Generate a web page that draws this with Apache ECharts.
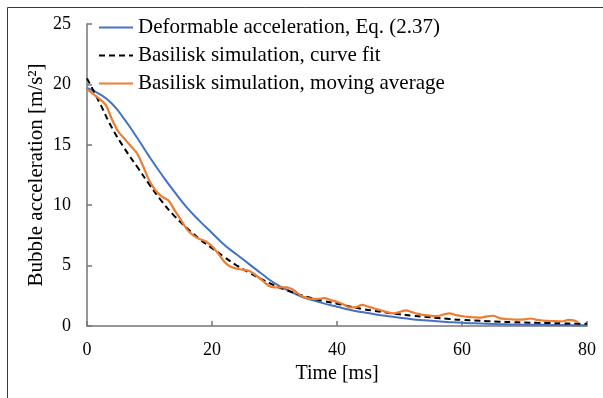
<!DOCTYPE html>
<html>
<head>
<meta charset="utf-8">
<script src="https://cdn.jsdelivr.net/npm/echarts@6/dist/echarts.min.js"></script>
<style>
html,body{margin:0;padding:0;background:#fff;}
#chart{width:603px;height:398px;}
</style>
</head>
<body>
<div id="chart"></div>
<script>
// Time grid for the smooth curves [ms]
const timeSmooth = [0,2,4,6,8,10,12,14,16,18,20,22,24,26,28,30,32,34,36,38,40,42,44,46,48,50,52,54,56,58,60,62,64,66,68,70,72,74,76,78,80];
// Deformable acceleration, Eq. (2.37) [m/s^2]
const deformable = [19.7,19.2,18.4,17.1,15.6,14.0,12.5,11.1,9.8,8.7,7.7,6.7,5.9,5.1,4.3,3.55,3.0,2.5,2.15,1.85,1.6,1.35,1.15,0.97,0.82,0.68,0.56,0.47,0.39,0.32,0.26,0.22,0.18,0.15,0.13,0.11,0.1,0.09,0.08,0.07,0.07];
// Basilisk simulation, curve fit [m/s^2]
const curveFit = [20.5,18.5,16.4,14.7,13.2,11.7,10.3,9.1,8.1,7.2,6.45,5.7,5.0,4.4,3.85,3.35,2.95,2.6,2.3,2.05,1.85,1.62,1.42,1.25,1.1,0.97,0.86,0.76,0.67,0.58,0.5,0.45,0.4,0.36,0.32,0.29,0.26,0.24,0.22,0.2,0.19];
// Basilisk simulation, moving average
const timeAvg = [0,1,2,3,4,5,6,7,8,9,10,11,12,13,14,15,16,17,18,19,20,21,22,23,24,25,26,27,28,29,30,31,32,33,34,35,36,37,38,39,40,41,42,43,44,45,46,47,48,49,50,51,52,53,54,55,56,57,58,59,60,61,62,63,64,65,66,67,68,69,70,71,72,73,74,75,76,77,78,78.6];
const movingAvg = [19.6,19.2,18.8,18.3,17.1,16.1,15.5,14.9,14.3,13.2,12.0,11.2,10.7,10.4,9.6,8.8,8.0,7.5,7.2,7.0,6.6,6.0,5.3,4.9,4.75,4.65,4.55,4.2,3.8,3.35,3.2,3.2,3.2,3.0,2.6,2.35,2.25,2.25,2.3,2.15,2.0,1.8,1.55,1.55,1.75,1.6,1.45,1.3,1.15,1.05,1.15,1.3,1.15,1.0,0.9,0.85,0.82,0.95,1.05,0.9,0.82,0.75,0.72,0.7,0.8,0.85,0.65,0.58,0.55,0.52,0.55,0.62,0.5,0.45,0.42,0.4,0.38,0.5,0.45,0.3];
// Axis ticks
const xTicks = {min: 0, max: 80, interval: 20};
const yTicks = {min: 0, max: 25, interval: 5};

const pair = (xs, ys) => xs.map((x, i) => [x, ys[i]]);
const FONT = 'Liberation Serif';

const chart = echarts.init(document.getElementById('chart'), null, {renderer: 'canvas'});
chart.setOption({
  animation: false,
  backgroundColor: '#fff',
  textStyle: {fontFamily: FONT},
  graphic: [{
    type: 'rect', silent: true, z: -1,
    shape: {x: 7.5, y: 7.5, width: 800, height: 600},
    style: {fill: 'none', stroke: '#3a3a3a', lineWidth: 1}
  }],
  grid: {left: 87, right: 16, top: 24, bottom: 72, containLabel: false},
  legend: {
    orient: 'vertical', left: 98, top: 17, padding: 0,
    itemWidth: 34, itemHeight: 14, itemGap: 7,
    itemStyle: {opacity: 0},
    textStyle: {fontFamily: FONT, fontSize: 21, color: '#000'},
    data: ['Deformable acceleration, Eq. (2.37)', 'Basilisk simulation, curve fit', 'Basilisk simulation, moving average']
  },
  xAxis: {
    type: 'value', min: xTicks.min, max: xTicks.max, interval: xTicks.interval,
    name: 'Time [ms]', nameLocation: 'middle', nameGap: 38, nameMoveOverlap: false,
    nameTextStyle: {fontFamily: FONT, fontSize: 20, color: '#000'},
    axisLine: {show: true, lineStyle: {color: '#767676', width: 1.5}},
    axisTick: {show: true, inside: true, length: 5, lineStyle: {color: '#767676', width: 1.5}},
    axisLabel: {fontFamily: FONT, fontSize: 18, color: '#000', margin: 15},
    splitLine: {show: false}
  },
  yAxis: {
    type: 'value', min: yTicks.min, max: yTicks.max, interval: yTicks.interval,
    name: 'Bubble acceleration [m/s²]', nameLocation: 'middle', nameGap: 40, nameMoveOverlap: false,
    nameTextStyle: {fontFamily: FONT, fontSize: 21, color: '#000'},
    axisLine: {show: true, lineStyle: {color: '#767676', width: 1.5}},
    axisTick: {show: true, inside: true, length: 5, lineStyle: {color: '#767676', width: 1.5}},
    axisLabel: {fontFamily: FONT, fontSize: 18, color: '#000', margin: 16},
    splitLine: {show: false}
  },
  series: [
    {
      name: 'Deformable acceleration, Eq. (2.37)', type: 'line',
      data: pair(timeSmooth, deformable), symbol: 'none', smooth: true,
      lineStyle: {color: '#4472C4', width: 2}, itemStyle: {color: '#4472C4'}
    },
    {
      name: 'Basilisk simulation, curve fit', type: 'line',
      data: pair(timeSmooth, curveFit), symbol: 'none', smooth: true,
      lineStyle: {color: '#000', width: 2, type: [6, 4]}, itemStyle: {color: '#000'}
    },
    {
      name: 'Basilisk simulation, moving average', type: 'line',
      data: pair(timeAvg, movingAvg), symbol: 'none', smooth: 0.3,
      lineStyle: {color: '#ED7D31', width: 2.2}, itemStyle: {color: '#ED7D31'}
    }
  ]
});
</script>
</body>
</html>
